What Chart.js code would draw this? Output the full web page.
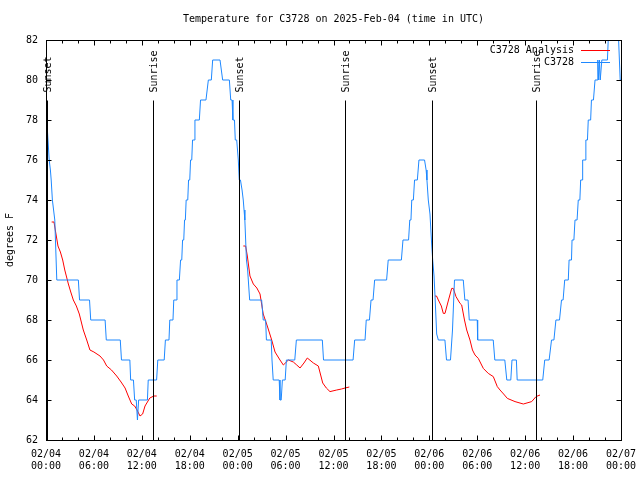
<!DOCTYPE html>
<html>
<head>
<meta charset="utf-8">
<script src="https://cdn.jsdelivr.net/npm/chart.js@4.4.1/dist/chart.umd.min.js"></script>
<style>
  html, body { margin: 0; padding: 0; background: #fff; }
  #chart { display: block; }
</style>
</head>
<body>
<canvas id="chart" width="640" height="480"></canvas>
<script>
const FONT = "'DejaVu Sans Mono', 'Liberation Mono', monospace";

// x values are hours since 02/04 00:00 UTC
const xTickLabels = [
  ['02/04', '00:00'], ['02/04', '06:00'], ['02/04', '12:00'], ['02/04', '18:00'],
  ['02/05', '00:00'], ['02/05', '06:00'], ['02/05', '12:00'], ['02/05', '18:00'],
  ['02/06', '00:00'], ['02/06', '06:00'], ['02/06', '12:00'], ['02/06', '18:00'],
  ['02/07', '00:00']
];

const eventHours = [0.08, 13.45, 24.2, 37.5, 48.3, 61.4];
const eventNames = ['Sunset', 'Sunrise', 'Sunset', 'Sunrise', 'Sunset', 'Sunrise'];
const markerTop = 79;

const seriesNames = ['C3728 Analysis', 'C3728'];
const seriesColors = ['#ff0000', '#1e88ff'];

// C3728 Analysis (red)
const analysisHours = [
  0.71, 1.0, 1.25, 1.5, 1.8, 2.09, 2.35, 2.8, 3.1, 3.42, 3.8, 4.17, 4.67, 5.1, 5.5, 6.0, 6.76, 7.2, 7.6,
  8.2, 8.85, 9.4, 9.9, 10.3, 10.73, 11.1, 11.4, 11.77, 12.1, 12.4, 13.0, 13.5, 13.86,
  null,
  24.71, 25.0, 25.21, 25.54, 25.96, 26.4, 26.8, 27.2, 27.71, 28.26, 28.68, 29.3, 29.72, 30.35, 30.97,
  31.4, 31.81, 32.3, 32.72, 33.48, 34.1, 34.65, 35.1, 35.56, 36.4, 37.0, 37.44, 37.98,
  null,
  48.71, 48.9, 49.13, 49.5, 49.75, 49.96, 50.4, 50.8, 51.0, 51.34, 51.84, 52.05, 52.4, 52.68, 53.09,
  53.4, 53.72, 54.13, 54.76, 55.38, 56.01, 56.51, 56.85, 57.3, 57.77, 58.73, 59.77, 60.82, 61.36, 61.86
];
const analysisTemps = [
  72.9, 72.9, 72.3, 71.7, 71.4, 71.0, 70.5, 69.8, 69.4, 69.0, 68.7, 68.3, 67.5, 67.0, 66.5, 66.4, 66.2, 66.0, 65.7,
  65.5, 65.2, 64.9, 64.6, 64.2, 63.8, 63.7, 63.5, 63.2, 63.3, 63.7, 64.1, 64.2, 64.2,
  null,
  71.7, 71.7, 71.2, 70.2, 69.8, 69.6, 69.3, 68.3, 67.7, 67.0, 66.4, 66.0, 65.75, 66.0, 65.9,
  65.75, 65.6, 65.85, 66.1, 65.85, 65.7, 64.85, 64.6, 64.42, 64.5, 64.55, 64.6, 64.65,
  null,
  69.2, 69.2, 69.0, 68.7, 68.33, 68.33, 69.0, 69.58, 69.58, 69.17, 68.83, 68.75, 68.0, 67.5, 67.0,
  66.5, 66.25, 66.08, 65.58, 65.33, 65.17, 64.67, 64.5, 64.3, 64.08, 63.92, 63.8, 63.92, 64.17, 64.25
];

// C3728 observations (blue)
const obsHours = [
  0.05, 0.1, 0.25, 0.4, 0.55, 0.65, 0.8, 0.95, 1.1, 1.35, 4.05, 4.2, 5.45, 5.6, 7.4, 7.55, 9.3, 9.45,
  10.5, 10.6, 10.95, 11.1, 11.3, 11.45, 11.6, 12.7, 12.8, 13.85, 14.0, 14.8, 14.95, 15.4, 15.5, 15.9,
  16.0, 16.3, 16.4, 16.7, 16.85, 17.0, 17.1, 17.25, 17.35, 17.45, 17.55, 17.75, 17.85, 18.0, 18.1,
  18.25, 18.35, 18.55, 18.65, 19.2, 19.35, 20.03, 20.33, 20.7, 20.87, 21.79, 22.12, 22.96, 23.13,
  23.3, 23.4, 23.6, 23.7, 23.88,
  24.08, 24.2, 24.35, 24.55, 24.7, 24.8, 24.9, 25.0, 25.1, 25.25, 25.5, 27.0, 27.2, 27.5, 27.6, 28.2,
  28.3, 28.45, 29.2, 29.3, 29.45, 29.6, 29.95, 30.1, 31.15, 31.35, 34.6, 34.75, 38.45, 38.65, 39.95,
  40.1, 40.5, 40.7, 40.95, 41.15, 42.65, 42.85, 44.5, 44.7, 45.4, 45.55, 45.7, 45.8, 46.0, 46.15,
  46.5, 46.7, 47.4, 47.6, 47.7, 47.87, 48.08, 48.29, 48.42, 48.59, 48.71, 48.92, 49.13, 49.95, 50.15,
  50.65, 50.9, 51.15, 52.25, 52.45, 52.85, 53.0, 54.0, 54.05, 56.0, 56.2, 57.45, 57.7, 58.2, 58.35,
  58.9, 59.0, 62.2, 62.45, 63.0, 63.3, 63.6, 63.85, 64.3, 64.55, 64.75, 64.95, 65.4, 65.5, 65.8,
  65.87, 66.1, 66.24, 66.5, 66.65, 66.85, 66.95, 67.15, 67.2, 67.5, 67.6, 67.8, 67.9, 68.2, 68.3,
  68.55, 68.75, 69.0, 69.1, 69.2, 69.3, 69.4, 69.6, 70.3, 70.5, 71.6, 71.9, 72.0
];
const obsTemps = [
  78.2, 78, 77, 76, 75.5, 75, 74, 73.5, 73, 70, 70, 69, 69, 68, 68, 67, 67, 66,
  66, 65, 65, 64, 64, 63, 64, 64, 65, 65, 66, 66, 67, 67, 68, 68,
  69, 69, 70, 70, 71, 71, 72, 72, 73, 73, 74, 74, 75, 75, 76,
  76, 77, 77, 78, 78, 79, 79, 80, 80, 81, 81, 80, 80, 79,
  79, 78, 78, 77, 77,
  76, 75, 75, 74.5, 74, 73.5, 73, 72, 71, 70.5, 69, 69, 68, 68, 67, 67,
  66, 65, 65, 64, 64, 65, 65, 66, 66, 67, 67, 66, 66, 67, 67,
  68, 68, 69, 69, 70, 70, 71, 71, 72, 72, 73, 73, 74, 74, 75,
  75, 76, 76, 75.5, 75, 74, 73.3, 71.8, 71, 70.2, 69.2, 67.3, 67, 67, 66,
  66, 67.5, 70, 70, 69, 69, 68, 68, 67, 67, 66, 66, 65, 65, 66,
  66, 65, 65, 66, 66, 67, 67, 68, 68, 69, 69, 70, 70, 71, 71,
  72, 72, 73, 73, 74, 74, 75, 75, 76, 76, 77, 77, 78, 78, 79,
  79, 80, 80, 81, 80, 81, 80, 81, 81, 83, 83, 80, 80
];

const toPoints = (xs, ys) => xs.map((h, i) => (h === null ? { x: null, y: null } : { x: h, y: ys[i] }));

const gnuplotFrame = {
  id: 'gnuplotFrame',
  afterDatasetsDraw(chart) {
    const { ctx, chartArea: a, scales: { x, y } } = chart;
    const L = Math.round(a.left) + 0.5, R = Math.round(a.right) + 0.5;
    const T = Math.round(a.top) + 0.5, B = Math.round(a.bottom) + 0.5;
    ctx.save();
    ctx.strokeStyle = '#000';
    ctx.fillStyle = '#000';
    ctx.lineWidth = 1;
    ctx.font = '10px ' + FONT;

    // sunrise / sunset markers
    const topPx = Math.round(y.getPixelForValue(markerTop)) + 0.5;
    eventHours.forEach((h, i) => {
      const px = Math.round(x.getPixelForValue(h)) + 0.5;
      ctx.beginPath();
      ctx.moveTo(px, topPx);
      ctx.lineTo(px, B);
      ctx.stroke();
      ctx.save();
      ctx.translate(px + 1, topPx - 8);
      ctx.rotate(-Math.PI / 2);
      ctx.textAlign = 'left';
      ctx.textBaseline = 'middle';
      ctx.fillText(eventNames[i], 0, 0);
      ctx.restore();
    });

    // border
    ctx.strokeRect(L, T, R - L, B - T);

    // inward ticks, mirrored
    ctx.beginPath();
    for (let h = 0; h <= 72; h += 2) {
      const px = Math.round(x.getPixelForValue(h)) + 0.5;
      const len = h % 6 === 0 ? 5 : 3;
      ctx.moveTo(px, B); ctx.lineTo(px, B - len);
      ctx.moveTo(px, T); ctx.lineTo(px, T + len);
    }
    for (let v = 62; v <= 82; v += 2) {
      const py = Math.round(y.getPixelForValue(v)) + 0.5;
      ctx.moveTo(L, py); ctx.lineTo(L + 5, py);
      ctx.moveTo(R, py); ctx.lineTo(R - 5, py);
    }
    ctx.stroke();

    // key, top right inside the plot
    seriesNames.forEach((name, i) => {
      const ry = Math.floor(a.top + 10 + i * 12) + 0.5;
      ctx.textAlign = 'right';
      ctx.textBaseline = 'middle';
      ctx.fillStyle = '#000';
      ctx.fillText(name, a.right - 47, ry);
      ctx.strokeStyle = seriesColors[i];
      ctx.beginPath();
      ctx.moveTo(a.right - 40, ry);
      ctx.lineTo(a.right - 11, ry);
      ctx.stroke();
    });
    ctx.restore();
  }
};

new Chart(document.getElementById('chart'), {
  type: 'line',
  data: {
    datasets: [
      {
        label: seriesNames[0],
        data: toPoints(analysisHours, analysisTemps),
        borderColor: seriesColors[0],
        borderWidth: 1,
        pointRadius: 0,
        tension: 0,
        spanGaps: false,
        clip: 0,
        order: 1
      },
      {
        label: seriesNames[1],
        data: toPoints(obsHours, obsTemps),
        borderColor: seriesColors[1],
        borderWidth: 1,
        pointRadius: 0,
        tension: 0,
        clip: 0,
        order: 0
      }
    ]
  },
  options: {
    responsive: false,
    animation: false,
    devicePixelRatio: 1,
    layout: { padding: { left: 0, right: 19, top: 0, bottom: 0 } },
    plugins: {
      legend: { display: false },
      tooltip: { enabled: false },
      title: {
        display: true,
        fullSize: false,
        text: 'Temperature for C3728 on 2025-Feb-04 (time in UTC)',
        color: '#000',
        font: { family: FONT, size: 10, weight: 'normal', lineHeight: 1.2 },
        padding: { top: 13, bottom: 15 }
      }
    },
    scales: {
      x: {
        type: 'linear',
        min: 0,
        max: 72,
        afterFit(s) {
          s.height = 40;
          s.paddingLeft = 0;
          s.paddingRight = 0;
        },
        grid: { display: false, drawTicks: false, tickLength: 0 },
        border: { display: false },
        ticks: {
          stepSize: 6,
          padding: 8,
          autoSkip: false,
          maxRotation: 0,
          color: '#000',
          font: { family: FONT, size: 10, lineHeight: 1.2 },
          callback: (v) => xTickLabels[Math.round(v / 6)]
        }
      },
      y: {
        min: 62,
        max: 82,
        afterFit(s) {
          s.width = 46;
          s.paddingTop = 0;
          s.paddingBottom = 0;
        },
        grid: { display: false, drawTicks: false, tickLength: 0 },
        border: { display: false },
        title: {
          display: true,
          text: 'degrees F',
          color: '#000',
          font: { family: FONT, size: 10, lineHeight: 1.2 },
          padding: { top: 4, bottom: 0 }
        },
        ticks: {
          stepSize: 2,
          padding: 8,
          color: '#000',
          font: { family: FONT, size: 10, lineHeight: 1.2 }
        }
      }
    }
  },
  plugins: [gnuplotFrame]
});
</script>
</body>
</html>
